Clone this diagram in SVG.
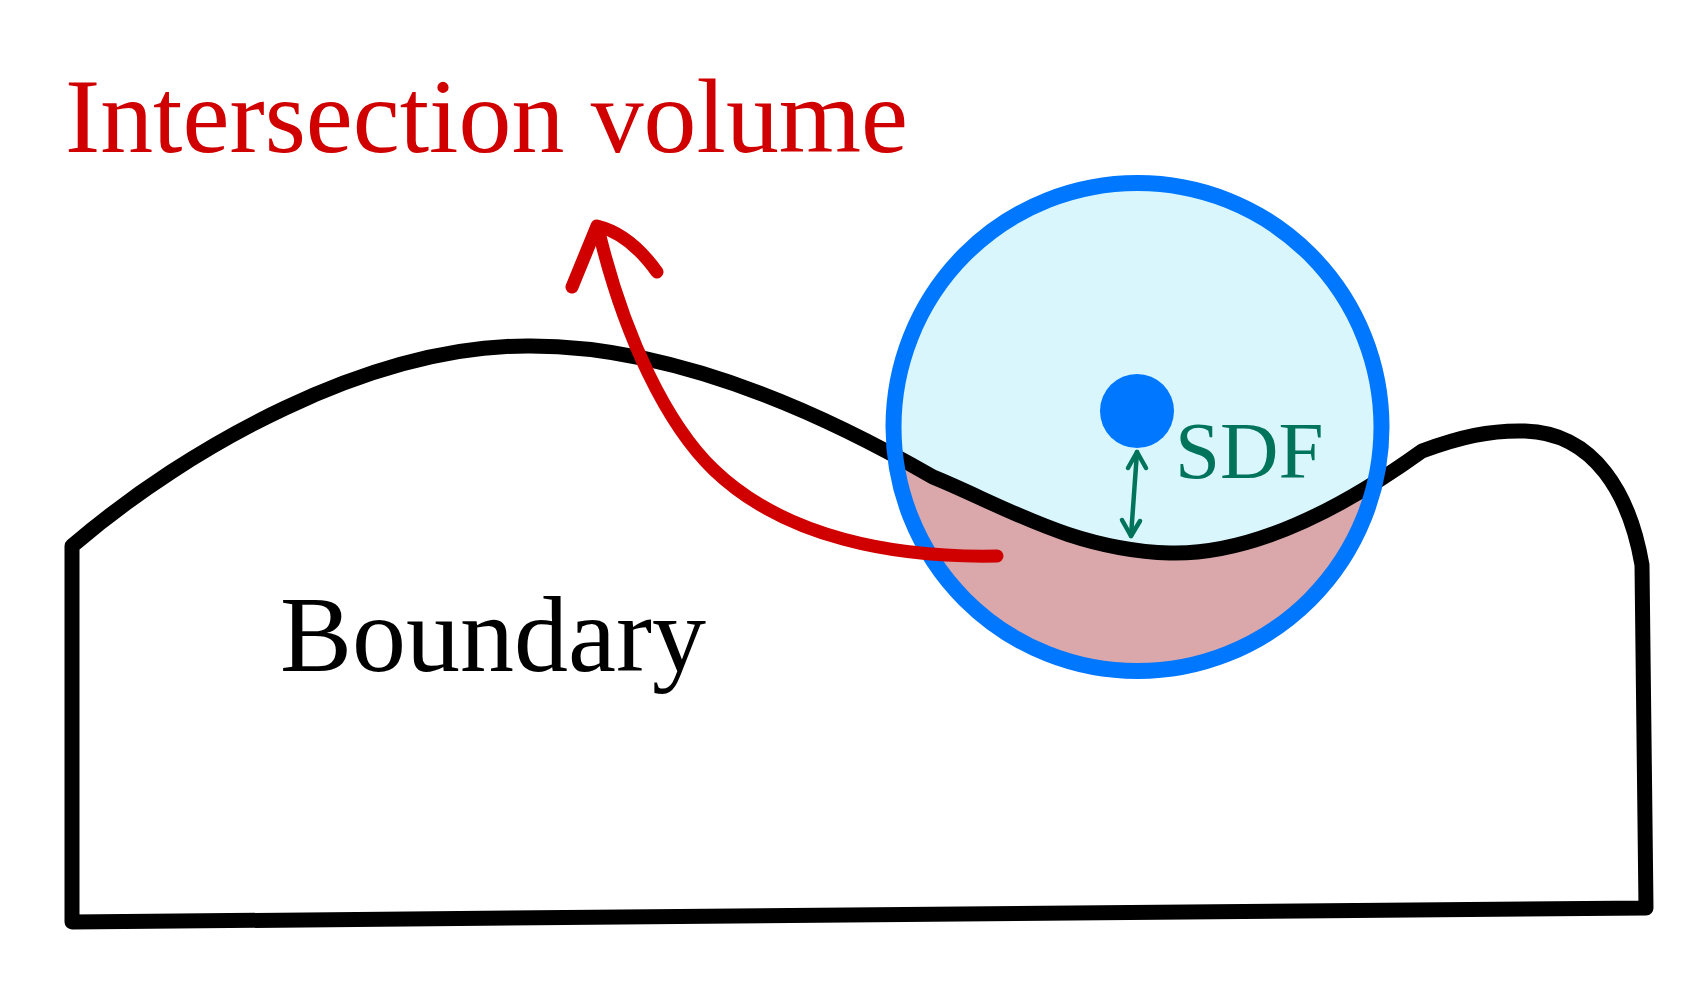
<svg xmlns="http://www.w3.org/2000/svg" width="1703" height="1000" viewBox="0 0 1703 1000">
<style>
.bnd{fill:none;stroke:#000;stroke-width:15;stroke-linejoin:round;stroke-linecap:round}
.red{fill:none;stroke:#d00000;stroke-width:13;stroke-linecap:round;stroke-linejoin:round}
.teal{fill:none;stroke:#00745a;stroke-width:4.5;stroke-linecap:round;stroke-linejoin:round}
.serif{font-family:"Liberation Serif","Times New Roman",serif}
</style>
<defs>
<path id="bpath" d="M72 546 C190 445 370 346 527 346 C660 345 800 400 933 477 C1002 505 1072 550 1170 553 C1250 555 1340 510 1422 451 C1460 437 1490 430 1525 431 C1595 433 1630 495 1642 565 L1646 908 L72 922 Z"/>
<clipPath id="cclip"><circle cx="1137.5" cy="427" r="244"/></clipPath>
</defs>
<rect width="1703" height="1000" fill="#fff"/>
<g id="sphere-fill">
<circle cx="1137.5" cy="427" r="244" fill="#d9f6fd"/>
<use href="#bpath" fill="#daa8aa" clip-path="url(#cclip)"/>
</g>
<g id="boundary">
<use href="#bpath" class="bnd"/>
</g>
<g id="sphere">
<circle cx="1137.5" cy="427" r="244" fill="none" stroke="#0077ff" stroke-width="16"/>
<circle cx="1137" cy="411" r="37" fill="#0077ff"/>
</g>
<g id="connectors">
<g id="sdf-arrow">
<path class="teal" d="M1137 452 L1131 536"/>
<path class="teal" d="M1128 468 L1137 452 L1146 468"/>
<path class="teal" d="M1122 520 L1131 536 L1140 521"/>
</g>
<g id="intersection-arrow">
<path class="red" d="M997 556 C895 558 785 538 714 470 C668 426 624 338 598 228"/>
<path class="red" d="M572 287 L597 226 Q630 234 657 272"/>
</g>
</g>
<g id="labels">
<text class="serif" x="65" y="152" font-size="106" fill="#d00000" textLength="843" lengthAdjust="spacingAndGlyphs">Intersection volume</text>
<text class="serif" x="280" y="671" font-size="108" fill="#000">Boundary</text>
<text class="serif" x="1175" y="478" font-size="81" fill="#00745a">SDF</text>
</g>
</svg>
